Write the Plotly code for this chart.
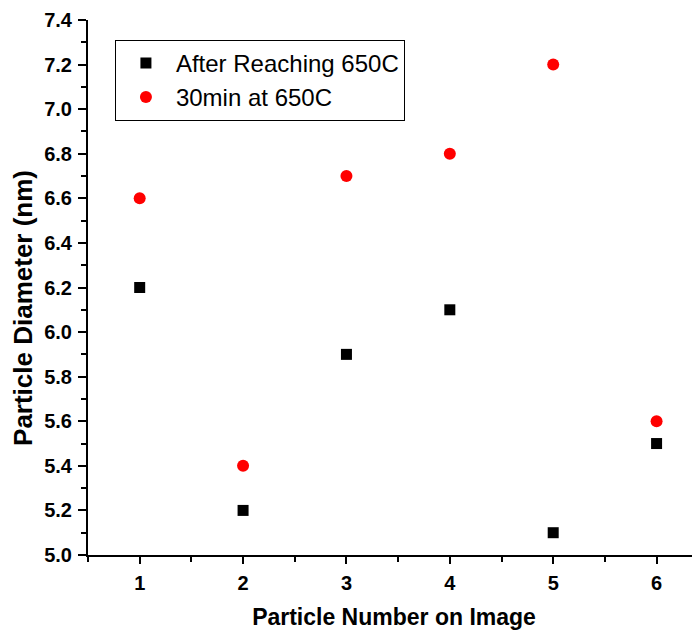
import plotly.graph_objects as go

particle_number = [1, 2, 3, 4, 5, 6]
after_reaching = [6.2, 5.2, 5.9, 6.1, 5.1, 5.5]
after_30min = [6.6, 5.4, 6.7, 6.8, 7.2, 5.6]

series_names = ["After Reaching 650C", "30min at 650C"]
x_title = "Particle Number on Image"
y_title = "Particle Diameter (nm)"

fig = go.Figure()
fig.add_trace(go.Scatter(x=particle_number, y=after_reaching, mode="markers",
                         name=series_names[0],
                         marker=dict(symbol="square", size=11, color="black")))
fig.add_trace(go.Scatter(x=particle_number, y=after_30min, mode="markers",
                         name=series_names[1],
                         marker=dict(symbol="circle", size=12, color="#ff0000")))

font_family = "Liberation Sans, Arial, sans-serif"

fig.update_layout(
    width=692, height=622,
    margin=dict(l=80, r=0, t=12, b=75),
    paper_bgcolor="white", plot_bgcolor="white",
    font=dict(family=font_family, color="black"),
    showlegend=True,
    legend=dict(x=0.044, y=0.963, xanchor="left", yanchor="top",
                bordercolor="black", borderwidth=1, bgcolor="white",
                font=dict(size=24, family=font_family, color="black"),
                itemsizing="trace", tracegroupgap=0, itemwidth=50),
    annotations=[dict(text=y_title, xref="paper", yref="paper",
                      x=-0.106, y=0.462, xanchor="center", yanchor="middle",
                      textangle=-90, showarrow=False,
                      font=dict(size=26, weight="bold", family=font_family, color="black"))],
)
fig.update_xaxes(
    range=[0.5, 6.42], tick0=1, dtick=1, automargin=False,
    showline=True, linecolor="black", linewidth=2,
    ticks="outside", ticklen=7, tickwidth=2, tickcolor="black",
    minor=dict(dtick=0.5, tick0=0.5, ticks="outside", ticklen=5, tickwidth=2, tickcolor="black"),
    showgrid=False, zeroline=False, ticklabelstandoff=2,
    tickfont=dict(size=20, weight="bold"),
    title=dict(text=x_title, font=dict(size=23, weight="bold"), standoff=17),
)
fig.update_yaxes(
    range=[5.0, 7.4], tick0=5.0, dtick=0.2, tickformat=".1f", automargin=False,
    showline=True, linecolor="black", linewidth=2,
    ticks="outside", ticklen=8, tickwidth=2, tickcolor="black",
    minor=dict(dtick=0.1, ticks="outside", ticklen=5, tickwidth=2, tickcolor="black"),
    showgrid=False, zeroline=False, ticklabelstandoff=2,
    tickfont=dict(size=20, weight="bold"),
)

fig.write_html("out.html")
